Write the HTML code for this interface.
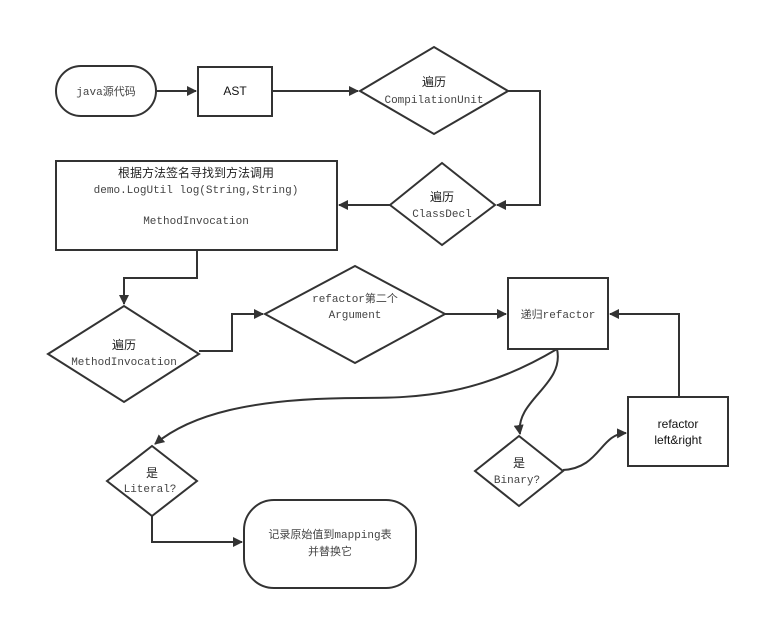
<!DOCTYPE html>
<html><head><meta charset="utf-8"><style>
html,body{margin:0;padding:0;background:#fff;}
svg{display:block;}
.m{font-family:"Liberation Mono","Noto Sans CJK SC",monospace;font-size:11px;fill:#444;}
.c{font-family:"Liberation Sans","Noto Sans CJK SC",sans-serif;font-size:12px;fill:#222;}
.s{font-family:"Liberation Sans","Noto Sans CJK SC",sans-serif;font-size:12px;fill:#111;}
</style></head><body>
<svg width="760" height="617" viewBox="0 0 760 617" xmlns="http://www.w3.org/2000/svg">
<defs><marker id="a" markerWidth="10" markerHeight="10" refX="9" refY="5" orient="auto" markerUnits="userSpaceOnUse"><path d="M0,0 L10,5 L0,10 z" fill="#333"/></marker></defs>
<g fill="none" stroke="#333" stroke-width="2">
<rect x="56" y="66" width="100" height="50" rx="25"/>
<rect x="198" y="67" width="74" height="49"/>
<polygon points="360,91 434,47 508,91 434,134"/>
<polygon points="390,205 442,163 495,205 442,245"/>
<rect x="56" y="161" width="281" height="89"/>
<polygon points="48,354 124,306 199,354 124,402"/>
<polygon points="265,314 355,266 445,314 355,363"/>
<rect x="508" y="278" width="100" height="71"/>
<rect x="628" y="397" width="100" height="69"/>
<polygon points="475,471 519,436 563,471 519,506"/>
<polygon points="107,481 152,446 197,481 152,516"/>
<rect x="244" y="500" width="172" height="88" rx="30"/>

<path d="M156,91 H196" marker-end="url(#a)"/>
<path d="M272,91 H358" marker-end="url(#a)"/>
<path d="M508,91 H540 V205 H497" marker-end="url(#a)"/>
<path d="M390,205 H339" marker-end="url(#a)"/>
<path d="M197,250 V278 H124 V304" marker-end="url(#a)"/>
<path d="M199,351 H232 V314 H263" marker-end="url(#a)"/>
<path d="M445,314 H506" marker-end="url(#a)"/>
<path d="M679,397 V314 H610" marker-end="url(#a)"/>
<path d="M557,349 C480,395 420,398 360,398 C250,398 190,415 155,444" marker-end="url(#a)"/>
<path d="M557,349 C565,385 515,400 520,434" marker-end="url(#a)"/>
<path d="M563,470 C600,468 600,434 626,433" marker-end="url(#a)"/>
<path d="M152,516 V542 H242" marker-end="url(#a)"/>
</g>
<text class="m" x="106" y="95" text-anchor="middle">java源代码</text>
<text class="s" x="235" y="95" text-anchor="middle" font-size="13">AST</text>
<text class="c" x="434" y="86" text-anchor="middle">遍历</text>
<text class="m" x="434" y="103" text-anchor="middle">CompilationUnit</text>
<text class="c" x="442" y="201" text-anchor="middle">遍历</text>
<text class="m" x="442" y="217" text-anchor="middle">ClassDecl</text>
<text class="c" x="196" y="177" text-anchor="middle">根据方法签名寻找到方法调用</text>
<text class="m" x="196" y="193" text-anchor="middle" fill="#222">demo.LogUtil log(String,String)</text>
<text class="m" x="196" y="224" text-anchor="middle">MethodInvocation</text>
<text class="c" x="124" y="349" text-anchor="middle">遍历</text>
<text class="m" x="124" y="365" text-anchor="middle">MethodInvocation</text>
<text class="m" x="355" y="302" text-anchor="middle">refactor第二个</text>
<text class="m" x="355" y="318" text-anchor="middle">Argument</text>
<text class="m" x="558" y="318" text-anchor="middle">递归refactor</text>
<text class="s" x="678" y="428" text-anchor="middle">refactor</text>
<text class="s" x="678" y="444" text-anchor="middle">left&amp;right</text>
<text class="c" x="519" y="467" text-anchor="middle">是</text>
<text class="m" x="517" y="483" text-anchor="middle">Binary?</text>
<text class="c" x="152" y="477" text-anchor="middle">是</text>
<text class="m" x="150" y="492" text-anchor="middle">Literal?</text>
<text class="m" x="330" y="538" text-anchor="middle" font-size="12">记录原始值到mapping表</text>
<text class="m" x="330" y="555" text-anchor="middle" font-size="12">并替换它</text>
</svg>
</body></html>
